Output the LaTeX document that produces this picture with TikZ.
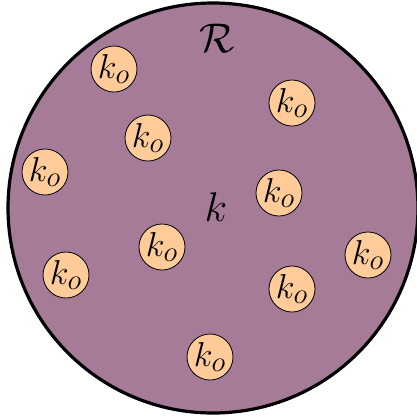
\documentclass[tikz,border=0pt]{standalone}
\usepackage{xcolor}
\definecolor{regionfill}{RGB}{165,123,152}
\definecolor{ballfill}{RGB}{255,204,153}

\begin{document}
\begin{tikzpicture}[x=0.5pt,y=-0.5pt,
  ball/.style={circle,draw=black,fill=ballfill,minimum size=23pt,inner sep=0pt,font=\fontsize{19}{22}\selectfont},
  lbl/.style={font=\fontsize{22}{26}\selectfont}]
\useasboundingbox (0,0) rectangle (417,419);

\draw[line width=1.6pt,fill=regionfill] (213,208) circle (205);

\node[lbl] (R) at (217,38) {$\mathcal{R}$};
\node[lbl] (k) at (216,207) {$k$};

\node[ball] (b1) at (114,69) {$k_o$};
\node[ball] (b2) at (292,103) {$k_o$};
\node[ball] (b3) at (148,138) {$k_o$};
\node[ball] (b4) at (45,172) {$k_o$};
\node[ball] (b5) at (279,193) {$k_o$};
\node[ball] (b6) at (162,247) {$k_o$};
\node[ball] (b7) at (368,255) {$k_o$};
\node[ball] (b8) at (66,275) {$k_o$};
\node[ball] (b9) at (292,289) {$k_o$};
\node[ball] (b10) at (210,357) {$k_o$};
\end{tikzpicture}
\end{document}
